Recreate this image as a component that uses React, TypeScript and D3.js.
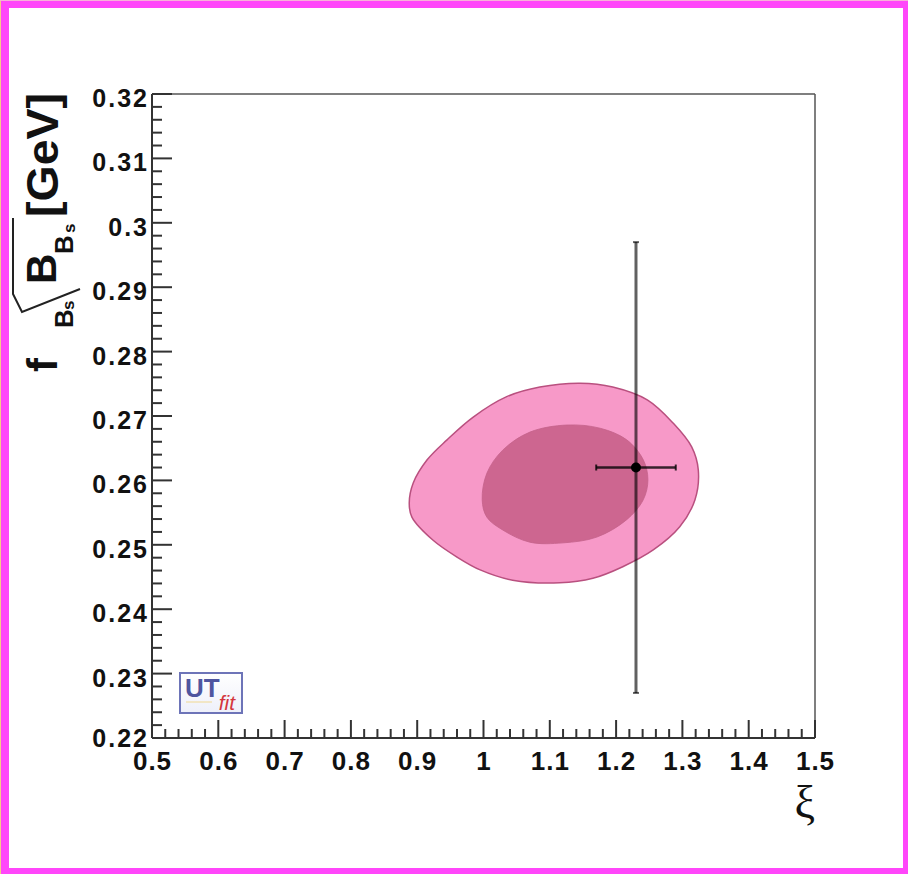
import React from "react";
import * as d3 from "d3";

// axis ranges and tick labels
const xTicks = [0.5, 0.6, 0.7, 0.8, 0.9, 1, 1.1, 1.2, 1.3, 1.4, 1.5];
const yTicks = [0.22, 0.23, 0.24, 0.25, 0.26, 0.27, 0.28, 0.29, 0.3, 0.31, 0.32];

// 95% probability region (outer contour), [xi, fBs*sqrt(BBs)]
const outerXi = [0.888, 0.894, 0.915, 0.945, 0.984, 1.035, 1.085, 1.146, 1.195, 1.247, 1.286, 1.314, 1.324, 1.319, 1.296, 1.256, 1.21, 1.165, 1.115, 1.044, 0.995, 0.96, 0.924, 0.892];
const outerF = [0.2565, 0.2596, 0.2632, 0.2663, 0.2698, 0.273, 0.2745, 0.2751, 0.2745, 0.2725, 0.2689, 0.2652, 0.2616, 0.257, 0.2528, 0.2492, 0.2466, 0.2448, 0.2441, 0.2445, 0.2461, 0.2481, 0.2507, 0.2543];

// 68% probability region (inner contour)
const innerXi = [0.998, 1.005, 1.029, 1.07, 1.126, 1.176, 1.216, 1.241, 1.248, 1.241, 1.216, 1.171, 1.12, 1.07, 1.029, 1.005];
const innerF = [0.257, 0.2611, 0.2647, 0.2675, 0.2686, 0.2681, 0.2663, 0.2632, 0.2601, 0.257, 0.2539, 0.2512, 0.2503, 0.2504, 0.2523, 0.2543];

// lattice point with errors
const pointXi = 1.23;
const pointXiErr = 0.06;
const pointF = 0.262;
const pointFErr = 0.035;

const W = 908;
const H = 874;
const left = 152, right = 815, top = 94, bottom = 738;

const App = () => {
  const x = d3.scaleLinear().domain([0.5, 1.5]).range([left, right]);
  const y = d3.scaleLinear().domain([0.22, 0.32]).range([bottom, top]);

  const line = d3
    .line<[number, number]>()
    .x((d) => x(d[0]))
    .y((d) => y(d[1]))
    .curve(d3.curveCatmullRomClosed.alpha(0.5));

  const outerPts = outerXi.map((v, i) => [v, outerF[i]] as [number, number]);
  const innerPts = innerXi.map((v, i) => [v, innerF[i]] as [number, number]);

  // minor ticks: 5 subdivisions per major
  const xMinor = d3.range(0, 51).map((i) => 0.5 + i * 0.02);
  const yMinor = d3.range(0, 51).map((i) => 0.22 + i * 0.002);

  const tickFont = "'Liberation Sans', Arial, Helvetica, sans-serif";
  const axisCol = "#333";

  return (
    <svg
      width={W}
      height={H}
      style={{ position: "absolute", left: 0, top: 0, display: "block" }}
    >
      {/* frame */}
      <rect x={0} y={0} width={W} height={H} fill="#ff46fa" />
      <rect x={0} y={0} width={1} height={H} fill="#f6c98a" />
      <rect x={0} y={0} width={W} height={1} fill="#f7b0d8" />
      <rect x={9} y={8} width={W - 9 - 5} height={H - 8 - 6} fill="#fff" />

      {/* contours */}
      <path d={line(outerPts) || ""} fill="#f799c8" stroke="#b9507f" strokeWidth={1.5} />
      <path d={line(innerPts) || ""} fill="#cd6690" stroke="#c4628a" strokeWidth={0.8} />

      {/* plot box */}
      <line x1={left} x2={right} y1={top} y2={top} stroke="#555" strokeWidth={1.5} />
      <line x1={right} x2={right} y1={top} y2={bottom} stroke="#555" strokeWidth={1.5} />

      {/* error bars */}
      <g stroke="#000">
        <line
          x1={x(pointXi)}
          x2={x(pointXi)}
          y1={y(pointF + pointFErr)}
          y2={y(pointF - pointFErr)}
          strokeWidth={3}
          strokeOpacity={0.62}
        />
        <line
          x1={x(pointXi - pointXiErr)}
          x2={x(pointXi + pointXiErr)}
          y1={y(pointF)}
          y2={y(pointF)}
          strokeWidth={2.5}
          strokeOpacity={0.78}
        />
        <line
          x1={x(pointXi - pointXiErr)}
          x2={x(pointXi - pointXiErr)}
          y1={y(pointF) - 3}
          y2={y(pointF) + 3}
          strokeWidth={2}
          strokeOpacity={0.78}
        />
        <line
          x1={x(pointXi + pointXiErr)}
          x2={x(pointXi + pointXiErr)}
          y1={y(pointF) - 3}
          y2={y(pointF) + 3}
          strokeWidth={2}
          strokeOpacity={0.78}
        />
        <line
          x1={x(pointXi) - 3}
          x2={x(pointXi) + 3}
          y1={y(pointF + pointFErr)}
          y2={y(pointF + pointFErr)}
          strokeWidth={2}
          strokeOpacity={0.62}
        />
        <line
          x1={x(pointXi) - 3}
          x2={x(pointXi) + 3}
          y1={y(pointF - pointFErr)}
          y2={y(pointF - pointFErr)}
          strokeWidth={2}
          strokeOpacity={0.62}
        />
      </g>
      <circle cx={x(pointXi)} cy={y(pointF)} r={5} fill="#000" />

      {/* UTfit logo */}
      <g>
        <defs>
          <linearGradient id="logoBg" x1="0" y1="0" x2="0" y2="1">
            <stop offset="0" stopColor="#ffffff" />
            <stop offset="1" stopColor="#eef0fa" />
          </linearGradient>
        </defs>
        <rect x={180} y={673} width={62} height={40} fill="url(#logoBg)" stroke="#6d74b8" strokeWidth={2} />
        <line x1={186} x2={212} y1={702} y2={702} stroke="#f0d890" strokeWidth={1} />
        <text x={185} y={697} fontFamily={tickFont}>
          <tspan fontWeight="bold" fontSize={26} fill="#4f559f">
            UT
          </tspan>
          <tspan dx={-1} dy={13} fontStyle="italic" fontSize={21} fill="#d4363e">
            fit
          </tspan>
        </text>
      </g>

      {/* axes */}
      <line x1={left} x2={right} y1={bottom} y2={bottom} stroke={axisCol} strokeWidth={2} />
      <line x1={left} x2={left} y1={top} y2={bottom} stroke={axisCol} strokeWidth={2} />
      {xMinor.map((v, i) => (
        <line
          key={"xm" + i}
          x1={x(v)}
          x2={x(v)}
          y1={bottom}
          y2={bottom - (i % 5 === 0 ? 18 : 9)}
          stroke={axisCol}
          strokeWidth={2}
        />
      ))}
      {yMinor.map((v, i) => (
        <line
          key={"ym" + i}
          x1={left}
          x2={left + (i % 5 === 0 ? 20 : 10)}
          y1={y(v)}
          y2={y(v)}
          stroke={axisCol}
          strokeWidth={2}
        />
      ))}
      {xTicks.map((v) => (
        <text
          key={"xl" + v}
          x={x(v) + 0.5}
          y={770}
          textAnchor="middle"
          fontFamily={tickFont}
          fontWeight="bold"
          fontSize={26}
          letterSpacing={1}
          fill="#111"
        >
          {d3.format("~g")(v)}
        </text>
      ))}
      {yTicks.map((v, i) => (
        <text
          key={"yl" + v}
          x={149}
          y={y(v) + (i === 0 ? 9 : 13)}
          textAnchor="end"
          fontFamily={tickFont}
          fontWeight="bold"
          fontSize={25}
          letterSpacing={2}
          fill="#111"
        >
          {d3.format("~g")(v)}
        </text>
      ))}

      {/* x title */}
      <text
        x={815}
        y={818}
        textAnchor="end"
        fontFamily="'Liberation Serif', 'DejaVu Serif', serif"
        fontSize={46}
        fill="#111"
      >
        ξ
      </text>

      {/* y title: f_{B_s} sqrt(B_{B_s}) [GeV], rotated */}
      <g fontFamily={tickFont} fontWeight="bold" fill="#111">
        <text transform="translate(57,372) rotate(-90)" fontSize={42}>f</text>
        <text transform="translate(73,328) rotate(-90)" fontSize={26}>B</text>
        <text transform="translate(74,310) rotate(-90)" fontSize={17}>s</text>
        <text transform="translate(56,284) rotate(-90)" fontSize={42}>B</text>
        <text transform="translate(73,254) rotate(-90)" fontSize={26}>B</text>
        <text transform="translate(75,233) rotate(-90)" fontSize={17}>s</text>
        <text transform="translate(58,217) rotate(-90)" fontSize={44} textLength={124} lengthAdjust="spacingAndGlyphs">
          [GeV]
        </text>
      </g>
      <path
        d="M13,218 L13,294 L22,312 L80,289"
        fill="none"
        stroke="#222"
        strokeWidth={2}
      />
    </svg>
  );
};

export default App;
